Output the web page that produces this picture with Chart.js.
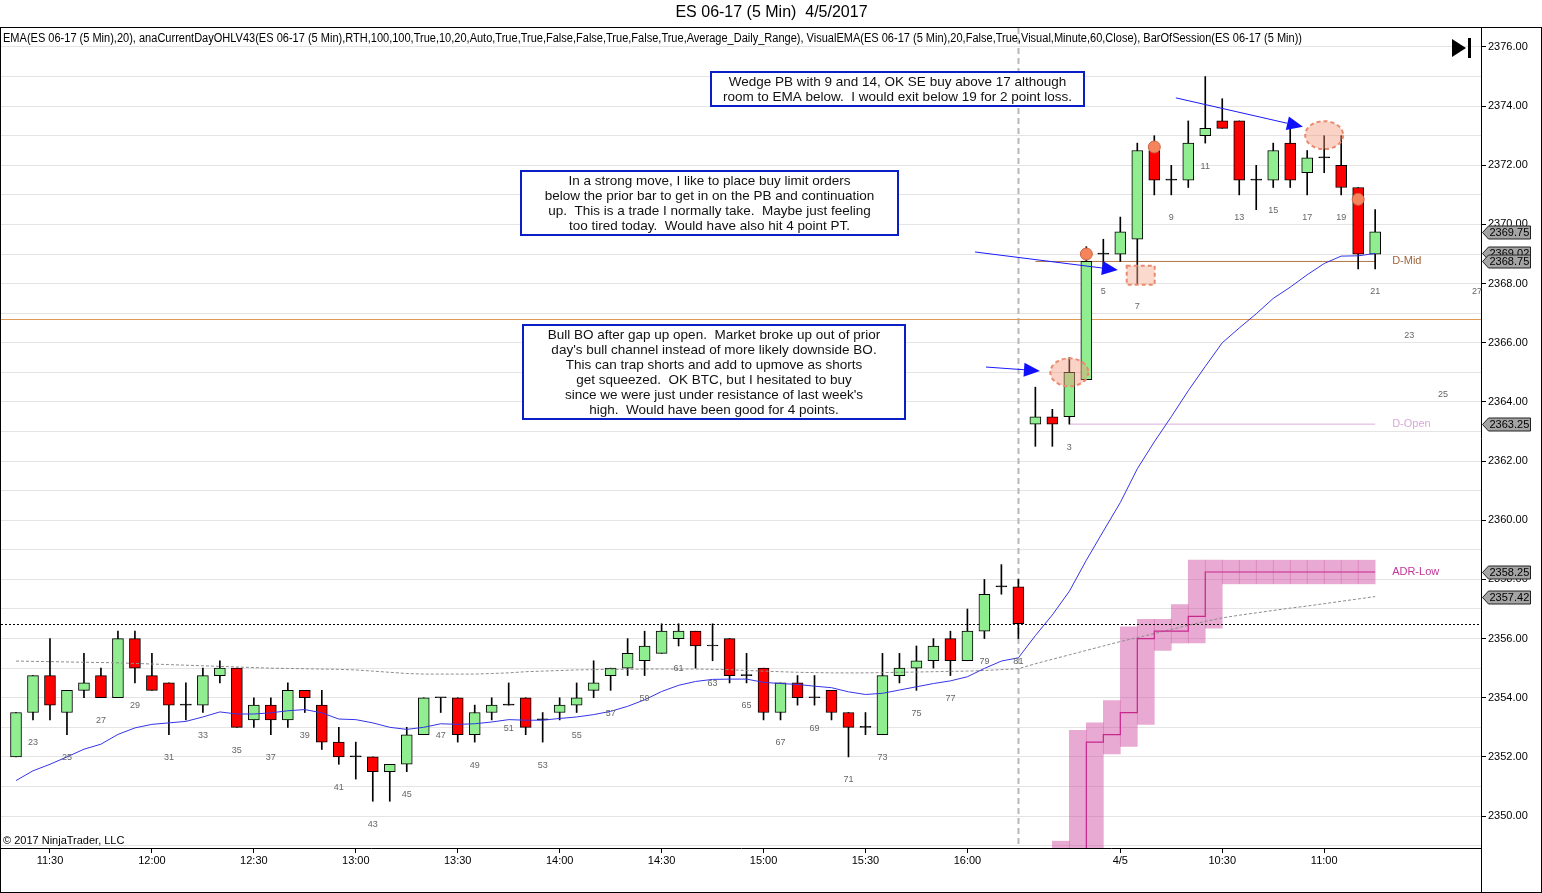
<!DOCTYPE html>
<html>
<head>
<meta charset="utf-8">
<title>ES 06-17 (5 Min) 4/5/2017</title>
<script src="https://cdn.jsdelivr.net/npm/chart.js@4.4.1/dist/chart.umd.min.js"></script>
<style>
  html, body { margin: 0; padding: 0; background: #fff; }
  #wrap { width: 1542px; height: 893px; }
</style>
</head>
<body>
<div id="wrap"><canvas id="chart" width="1542" height="893"></canvas></div>
<script>
const FONT = "'Liberation Sans', Arial, sans-serif";

// bar number inside its session: 4/4 from bar 22, 4/5 from bar 1
const barOfSession = [
  22, 23, 24, 25, 26, 27, 28, 29, 30, 31, 32, 33, 34, 35, 36, 37, 38, 39, 40, 41,
  42, 43, 44, 45, 46, 47, 48, 49, 50, 51, 52, 53, 54, 55, 56, 57, 58, 59, 60, 61,
  62, 63, 64, 65, 66, 67, 68, 69, 70, 71, 72, 73, 74, 75, 76, 77, 78, 79, 80, 81,
  1, 2, 3, 4, 5, 6, 7, 8, 9, 10, 11, 12, 13, 14, 15, 16, 17, 18, 19, 20, 21
];

const openPx = [
  2352, 2353.5, 2354.75, 2353.5, 2354.25, 2354.75, 2354, 2356, 2354.75, 2354.5,
  2353.75, 2353.75, 2354.75, 2355, 2353.25, 2353.75, 2353.25, 2354.25, 2353.75, 2352.5,
  2352, 2352, 2351.5, 2351.75, 2352.75, 2354, 2354, 2352.75, 2353.5, 2353.75,
  2354, 2353.25, 2353.5, 2353.75, 2354.25, 2354.75, 2355, 2355.25, 2355.5, 2356,
  2356.25, 2355.75, 2356, 2354.75, 2355, 2353.5, 2354.5, 2354, 2354.25, 2353.5,
  2353, 2352.75, 2354.75, 2355, 2355.25, 2356, 2355.25, 2356.25, 2357.75, 2357.75,
  // 4/5
  2363.25, 2363.5, 2363.5, 2364.75, 2369, 2369, 2369.5, 2372.5, 2371.5, 2371.5,
  2373, 2373.5, 2373.5, 2371.5, 2371.5, 2372.75, 2371.75, 2372.25, 2372, 2371.25, 2369
];
const highPx = [
  2353.5, 2354.75, 2356, 2354.25, 2355.5, 2355, 2356.25, 2356.25, 2355.5, 2354.5,
  2354.5, 2355, 2355.25, 2355, 2354, 2354, 2354.5, 2354.25, 2354.25, 2353,
  2352.5, 2352, 2351.75, 2353, 2354, 2354, 2354, 2353.75, 2354, 2354.5,
  2354, 2353.5, 2354, 2354.5, 2355.25, 2355, 2356, 2356.25, 2356.5, 2356.5,
  2356.25, 2356.5, 2356, 2355.5, 2355, 2354.5, 2354.75, 2354.75, 2354.25, 2353.5,
  2353.5, 2355.5, 2355.5, 2355.75, 2356, 2356.25, 2357, 2358, 2358.5, 2358,
  2364.5, 2363.75, 2365.5, 2369.25, 2369.5, 2370.25, 2372.75, 2373, 2372, 2373.5,
  2375, 2374.25, 2373.5, 2372, 2372.75, 2373.25, 2372.5, 2373, 2373, 2371.25, 2370.5
];
const lowPx = [
  2352, 2353.25, 2353.25, 2352.75, 2354, 2354, 2354, 2354.5, 2354.25, 2352.75,
  2353.25, 2353.5, 2354.5, 2353, 2353, 2352.75, 2353, 2353.5, 2352.25, 2351.75,
  2351.25, 2350.5, 2350.5, 2351.5, 2352.75, 2353.5, 2352.5, 2352.5, 2353.25, 2353.75,
  2352.75, 2352.5, 2353.25, 2353.5, 2354, 2354.25, 2354.75, 2354.75, 2355.5, 2355.75,
  2355, 2355.25, 2354.5, 2354.5, 2353.25, 2353.25, 2353.75, 2353.75, 2353.25, 2352,
  2352.75, 2352.75, 2354.5, 2354.25, 2355, 2354.75, 2355.25, 2356, 2357.5, 2356,
  2362.5, 2362.5, 2363.25, 2364.75, 2368.5, 2368.75, 2368, 2371, 2371, 2371.25,
  2372.75, 2373.25, 2371, 2370.5, 2371.25, 2371.25, 2371, 2371.75, 2371, 2368.5, 2368.5
];
const closePx = [
  2353.5, 2354.75, 2353.75, 2354.25, 2354.5, 2354, 2356, 2355, 2354.25, 2353.75,
  2353.75, 2354.75, 2355, 2353, 2353.75, 2353.25, 2354.25, 2354, 2352.5, 2352,
  2352, 2351.5, 2351.75, 2352.75, 2354, 2354, 2352.75, 2353.5, 2353.75, 2353.75,
  2353, 2353.25, 2353.75, 2354, 2354.5, 2355, 2355.5, 2355.75, 2356.25, 2356.25,
  2355.75, 2355.75, 2354.75, 2354.75, 2353.5, 2354.5, 2354, 2354, 2353.5, 2353,
  2353, 2354.75, 2355, 2355.25, 2355.75, 2355.25, 2356.25, 2357.5, 2357.75, 2356.5,
  2363.5, 2363.25, 2365, 2368.75, 2369, 2369.75, 2372.5, 2371.5, 2371.5, 2372.75,
  2373.25, 2373.25, 2371.5, 2371.5, 2372.5, 2371.5, 2372.25, 2372.25, 2371.25, 2369, 2369.75
];

// EMA(20), blue
const emaLine = [
  2351.2, 2351.53, 2351.75, 2352.0, 2352.26, 2352.43, 2352.76, 2352.98, 2353.1, 2353.15,
  2353.2, 2353.35, 2353.52, 2353.45, 2353.45, 2353.49, 2353.56, 2353.6, 2353.49, 2353.28,
  2353.26, 2353.15, 2353.0, 2352.93, 2353.0, 2353.12, 2353.1, 2353.12, 2353.18, 2353.26,
  2353.24, 2353.24, 2353.3, 2353.35, 2353.43, 2353.54, 2353.71, 2353.93, 2354.21, 2354.42,
  2354.55, 2354.62, 2354.63, 2354.63, 2354.52, 2354.48, 2354.45, 2354.39, 2354.34, 2354.2,
  2354.11, 2354.15, 2354.26, 2354.37, 2354.48, 2354.57, 2354.71, 2354.99, 2355.24, 2355.35,
  2356.1, 2356.8, 2357.6, 2358.65, 2359.63, 2360.6, 2361.74, 2362.65, 2363.5, 2364.38,
  2365.2, 2366.0, 2366.5, 2366.98, 2367.5, 2367.88, 2368.3, 2368.68, 2368.93, 2368.94, 2369.02
];
// VisualEMA (60 min), grey dotted
const visualEma = [
  2355.24, 2355.23, 2355.22, 2355.21, 2355.2, 2355.19, 2355.18, 2355.16, 2355.14, 2355.12,
  2355.1, 2355.08, 2355.06, 2355.04, 2355.02, 2355.0, 2354.99, 2354.98, 2354.97, 2354.96,
  2354.94, 2354.9, 2354.86, 2354.82, 2354.8, 2354.8, 2354.8, 2354.8, 2354.82, 2354.84,
  2354.88, 2354.9, 2354.92, 2354.94, 2354.95, 2354.96, 2354.96, 2354.97, 2354.97, 2354.97,
  2354.97, 2354.96, 2354.95, 2354.92, 2354.9, 2354.88, 2354.86, 2354.85, 2354.84, 2354.84,
  2354.84, 2354.85, 2354.86, 2354.87, 2354.88, 2354.89, 2354.9, 2354.92, 2354.95, 2354.98,
  2355.15, 2355.3, 2355.45, 2355.6, 2355.75, 2355.9, 2356.03, 2356.17, 2356.31, 2356.45,
  2356.58, 2356.7, 2356.79, 2356.87, 2356.95, 2357.03, 2357.1, 2357.18, 2357.26, 2357.34, 2357.42
];
// ADR-Low for the 4/5 bars 1..21
const adrLow = [
  null, 2348.75, 2348.75, 2352.5, 2352.75, 2353.5, 2356.0, 2356.25, 2356.25, 2356.75,
  2358.25, 2358.25, 2358.25, 2358.25, 2358.25, 2358.25, 2358.25, 2358.25, 2358.25, 2358.25, 2358.25
];

const day2Start = 60;          // slot of 4/5 bar 1
const dMid = 2368.75;
const dMidFromBar = 1;
const dOpen = 2363.25;
const dOpenFromBar = 3;
const priorLevel = 2366.8;     // orange line
const dashedLevel = 2356.5;    // black dotted line

const timeLabels = ["11:30", "12:00", "12:30", "13:00", "13:30", "14:00", "14:30", "15:00", "15:30", "16:00", "4/5", "10:30", "11:00"];
const timeSlots = [2, 8, 14, 20, 26, 32, 38, 44, 50, 56, 65, 71, 77];

const markerSlots = [63, 67, 79];
const markerPrices = [2369.0, 2372.62, 2370.85];

const futureBars = [23, 25, 27];
const futureSlots = [82, 84, 86];
const futurePrices = [2366.23, 2364.24, 2367.75];

// annotations (slot, price)
const notes = [
  { x0: 40.9, x1: 62.86, top: 2375.15, lines: ["Wedge PB with 9 and 14, OK SE buy above 17 although", "room to EMA below.  I would exit below 19 for 2 point loss."] },
  { x0: 29.72, x1: 51.91, top: 2371.81, lines: ["In a strong move, I like to place buy limit orders", "below the prior bar to get in on the PB and continuation", "up.  This is a trade I normally take.  Maybe just feeling", "too tired today.  Would have also hit 4 point PT."] },
  { x0: 29.84, x1: 52.33, top: 2366.6, lines: ["Bull BO after gap up open.  Market broke up out of prior", "day's bull channel instead of more likely downside BO.", "This can trap shorts and add to upmove as shorts", "get squeezed.  OK BTC, but I hesitated to buy", "since we were just under resistance of last week's", "high.  Would have been good for 4 points."] }
];
const arrows = [
  { x1: 68.27, y1: 2374.28, x2: 75.75, y2: 2373.3 },
  { x1: 56.45, y1: 2369.07, x2: 64.86, y2: 2368.46 },
  { x1: 57.09, y1: 2365.18, x2: 60.27, y2: 2365.05 }
];
const ellipses = [
  { x: 77, y: 2373.02 },
  { x: 62, y: 2365.0 }
];
const boxes = [{ x: 66.2, y: 2368.28 }];

const adrHalf = 0.4;

// ---- datasets
const wickData = highPx.map((h, i) => ({ x: i, y: [lowPx[i], h] }));
const bodyData = openPx.map((o, i) => ({ x: i, y: [o, closePx[i]] }));
const emaData = emaLine.map((v, i) => ({ x: i, y: v }));
const visualData = visualEma.map((v, i) => ({ x: i, y: v }));
const adrData = [];
const adrBand = [];
adrLow.forEach((v, j) => {
  if (v == null) return;
  adrData.push({ x: day2Start + j, y: v });
  const next = adrLow[j + 1];
  if (next == null) return;
  const prev = adrLow[j - 1] ?? v;
  adrBand.push({ x: day2Start + j + 0.5, y: [Math.min(prev, v, next) - adrHalf, Math.max(prev, v, next) + adrHalf] });
});
const lastSlot = closePx.length - 1;
const dMidData = [{ x: day2Start + dMidFromBar - 1, y: dMid }, { x: lastSlot, y: dMid }];
const dOpenData = [{ x: day2Start + dOpenFromBar - 1, y: dOpen }, { x: lastSlot, y: dOpen }];
const markerData = markerSlots.map((s, i) => ({ x: s, y: markerPrices[i] }));

const BAND_INDEX = 0;

const overlay = {
  id: "overlay",
  beforeDatasetsDraw(chart) {
    const { ctx, chartArea: a, scales: { x, y } } = chart;
    ctx.save();
    // session break
    const sx = Math.round(x.getPixelForValue(day2Start - 1)) + 0.5;
    ctx.strokeStyle = "#b8b8b8";
    ctx.lineWidth = 2;
    ctx.setLineDash([6, 4]);
    ctx.beginPath(); ctx.moveTo(sx, a.top); ctx.lineTo(sx, a.bottom); ctx.stroke();
    // prior level
    ctx.setLineDash([]);
    ctx.lineWidth = 1;
    ctx.strokeStyle = "#e09a58";
    const oy = Math.round(y.getPixelForValue(priorLevel)) + 0.5;
    ctx.beginPath(); ctx.moveTo(a.left, oy); ctx.lineTo(a.right, oy); ctx.stroke();
    ctx.restore();
  },
  afterDatasetDraw(chart, args) {
    if (args.index !== BAND_INDEX) return;
    const { ctx, chartArea: a, scales: { y } } = chart;
    ctx.save();
    ctx.strokeStyle = "#000";
    ctx.lineWidth = 1;
    ctx.setLineDash([2, 2]);
    const dy = Math.round(y.getPixelForValue(dashedLevel)) + 0.5;
    ctx.beginPath(); ctx.moveTo(a.left, dy); ctx.lineTo(a.right, dy); ctx.stroke();
    ctx.restore();
  },
  afterDatasetsDraw(chart) {
    const { ctx, scales: { x, y } } = chart;
    ctx.save();

    // bar numbers
    ctx.font = "9px " + FONT;
    ctx.fillStyle = "#666";
    ctx.textAlign = "center";
    ctx.textBaseline = "middle";
    barOfSession.forEach((b, i) => {
      if (b % 2 === 0 || (i >= day2Start && b === 1)) return;
      ctx.fillText(String(b), x.getPixelForValue(i), y.getPixelForValue(lowPx[i]) + 23);
    });
    futureBars.forEach((b, i) => {
      ctx.fillText(String(b), x.getPixelForValue(futureSlots[i]), y.getPixelForValue(futurePrices[i]));
    });

    // level labels
    ctx.font = "11px " + FONT;
    ctx.textAlign = "left";
    const lx = x.getPixelForValue(lastSlot + 1);
    ctx.fillStyle = "#a0643c"; ctx.fillText("D-Mid", lx, y.getPixelForValue(dMid));
    ctx.fillStyle = "#d8a8d8"; ctx.fillText("D-Open", lx, y.getPixelForValue(dOpen));
    ctx.fillStyle = "#c0369a"; ctx.fillText("ADR-Low", lx, y.getPixelForValue(adrLow[adrLow.length - 1]));

    // orange marks
    ctx.lineWidth = 2;
    ctx.setLineDash([4, 3]);
    ctx.strokeStyle = "#ea8a6e";
    ellipses.forEach(e => {
      ctx.beginPath();
      ctx.ellipse(x.getPixelForValue(e.x), y.getPixelForValue(e.y), 19, 14, 0, 0, Math.PI * 2);
      ctx.fillStyle = "rgba(244,150,120,0.42)";
      ctx.fill(); ctx.stroke();
    });
    boxes.forEach(b => {
      const cx = x.getPixelForValue(b.x), cy = y.getPixelForValue(b.y);
      ctx.fillStyle = "rgba(246,170,145,0.45)";
      ctx.fillRect(cx - 14, cy - 9.5, 28, 19);
      ctx.strokeRect(cx - 14, cy - 9.5, 28, 19);
    });
    ctx.setLineDash([]);

    // arrows
    ctx.strokeStyle = "#1a1aff";
    ctx.fillStyle = "#1010ff";
    ctx.lineWidth = 1;
    arrows.forEach(r => {
      const x1 = x.getPixelForValue(r.x1), y1 = y.getPixelForValue(r.y1);
      const x2 = x.getPixelForValue(r.x2), y2 = y.getPixelForValue(r.y2);
      const ang = Math.atan2(y2 - y1, x2 - x1);
      const len = 16, half = 7;
      const bx = x2 - len * Math.cos(ang), by = y2 - len * Math.sin(ang);
      ctx.beginPath(); ctx.moveTo(x1, y1); ctx.lineTo(bx, by); ctx.stroke();
      ctx.beginPath();
      ctx.moveTo(x2, y2);
      ctx.lineTo(bx + half * Math.sin(ang), by - half * Math.cos(ang));
      ctx.lineTo(bx - half * Math.sin(ang), by + half * Math.cos(ang));
      ctx.closePath(); ctx.fill();
    });

    // text boxes
    ctx.font = "13.5px " + FONT;
    ctx.textAlign = "center";
    notes.forEach(n => {
      const l = Math.round(x.getPixelForValue(n.x0)), r = Math.round(x.getPixelForValue(n.x1));
      const t = Math.round(y.getPixelForValue(n.top));
      const h = n.lines.length * 15 + 4;
      ctx.fillStyle = "#fff";
      ctx.fillRect(l, t, r - l, h);
      ctx.strokeStyle = "#0a1ec8";
      ctx.lineWidth = 2;
      ctx.strokeRect(l, t, r - l, h);
      ctx.fillStyle = "#111";
      n.lines.forEach((s, k) => ctx.fillText(s, (l + r) / 2, t + 10 + k * 15));
    });
    ctx.restore();
  },
  afterDraw(chart) {
    const { ctx, chartArea: a, scales: { y } } = chart;
    ctx.save();
    // frame
    ctx.strokeStyle = "#000";
    ctx.lineWidth = 1;
    ctx.strokeRect(0.5, Math.round(a.top) - 0.5, chart.width - 1, chart.height - Math.round(a.top));
    ctx.beginPath();
    ctx.moveTo(Math.round(a.right) + 0.5, a.bottom);
    ctx.lineTo(Math.round(a.right) + 0.5, chart.height);
    ctx.stroke();

    // indicator line
    ctx.fillStyle = "#000";
    ctx.font = "12px " + FONT;
    ctx.textAlign = "left";
    ctx.textBaseline = "middle";
    ctx.fillText("EMA(ES 06-17 (5 Min),20), anaCurrentDayOHLV43(ES 06-17 (5 Min),RTH,100,100,True,10,20,Auto,True,True,False,False,True,False,True,Average_Daily_Range), VisualEMA(ES 06-17 (5 Min),20,False,True,Visual,Minute,60,Close), BarOfSession(ES 06-17 (5 Min))", 3, a.top + 11, 1299);
    ctx.font = "11px " + FONT;
    ctx.fillText("\u00a9 2017 NinjaTrader, LLC", 3, a.bottom - 7);

    // go-to-end icon
    const ir = a.right;
    ctx.beginPath();
    ctx.moveTo(ir - 29, a.top + 11); ctx.lineTo(ir - 29, a.top + 29); ctx.lineTo(ir - 15, a.top + 20);
    ctx.closePath(); ctx.fill();
    ctx.fillRect(ir - 13, a.top + 10, 3, 20);

    // price markers on the axis
    const tags = [closePx[lastSlot], emaLine[lastSlot], dMid, dOpen, adrLow[adrLow.length - 1], visualEma[lastSlot]];
    ctx.font = "11px " + FONT;
    tags.forEach(v => {
      const ty = Math.round(y.getPixelForValue(v)) + 0.5;
      const x0 = Math.round(a.right) + 1.5;
      ctx.beginPath();
      ctx.moveTo(x0, ty);
      ctx.lineTo(x0 + 6, ty - 6.5);
      ctx.lineTo(x0 + 48, ty - 6.5);
      ctx.lineTo(x0 + 48, ty + 6.5);
      ctx.lineTo(x0 + 6, ty + 6.5);
      ctx.closePath();
      ctx.fillStyle = "#a4a4a4";
      ctx.fill();
      ctx.strokeStyle = "#222";
      ctx.stroke();
      ctx.fillStyle = "#000";
      ctx.fillText(v.toFixed(2), x0 + 7, ty + 0.5);
    });
    ctx.restore();
  }
};

Chart.defaults.font.family = FONT;
Chart.defaults.color = "#000";

const chart = new Chart(document.getElementById("chart"), {
  type: "bar",
  data: {
    datasets: [
      {
        type: "bar",
        data: adrBand,
        backgroundColor: "rgba(204,64,156,0.45)",
        borderWidth: 0,
        barThickness: 17,
        grouped: false,
        order: 9
      },
      {
        type: "line",
        data: dMidData,
        borderColor: "#b07444",
        borderWidth: 1,
        pointRadius: 0,
        order: 8
      },
      {
        type: "line",
        data: dOpenData,
        borderColor: "#dcaedc",
        borderWidth: 1,
        pointRadius: 0,
        order: 8
      },
      {
        type: "bar",
        data: wickData,
        backgroundColor: "#000",
        borderWidth: 0,
        barThickness: 1,
        grouped: false,
        order: 6
      },
      {
        type: "bar",
        data: bodyData,
        backgroundColor: (c) => {
          const o = openPx[c.dataIndex], k = closePx[c.dataIndex];
          return k === o ? "#000" : (k > o ? "#90ee90" : "#ff0000");
        },
        borderColor: "#000",
        borderWidth: 1,
        borderSkipped: false,
        barThickness: 11,
        minBarLength: 1,
        grouped: false,
        order: 5
      },
      {
        type: "line",
        data: visualData,
        borderColor: "#8c8c8c",
        borderWidth: 1,
        borderDash: [3, 2],
        pointRadius: 0,
        order: 4
      },
      {
        type: "line",
        data: adrData,
        stepped: "before",
        borderColor: "#c8288c",
        borderWidth: 1.2,
        pointRadius: 0,
        order: 3
      },
      {
        type: "line",
        data: emaData,
        borderColor: "#3434e8",
        borderWidth: 1,
        pointRadius: 0,
        tension: 0,
        order: 2
      },
      {
        type: "line",
        data: markerData,
        showLine: false,
        pointRadius: 6,
        pointBackgroundColor: "#f4845c",
        pointBorderColor: "#cc6444",
        pointBorderWidth: 1,
        order: 1
      }
    ]
  },
  options: {
    responsive: false,
    animation: false,
    devicePixelRatio: 1,
    events: [],
    layout: { autoPadding: false, padding: { left: 1, right: 0, top: 0, bottom: 0 } },
    plugins: {
      legend: { display: false },
      tooltip: { enabled: false },
      title: {
        display: true,
        text: "ES 06-17 (5 Min)  4/5/2017",
        color: "#000",
        font: { size: 16, weight: "normal" },
        padding: { top: 2.8, bottom: 6 }
      }
    },
    scales: {
      x: {
        type: "linear",
        position: "bottom",
        min: -0.883,
        max: 86.23,
        bounds: "data",
        offset: false,
        afterBuildTicks: (s) => { s.ticks = timeSlots.map(v => ({ value: v })); },
        afterFit: (s) => { s.height = 45; s.paddingLeft = 0; s.paddingRight = 0; },
        ticks: {
          autoSkip: false,
          maxRotation: 0,
          padding: 1,
          font: { size: 11 },
          callback: (v) => timeLabels[timeSlots.indexOf(v)] ?? ""
        },
        grid: { offset: false, drawOnChartArea: false, drawTicks: true, tickLength: 5, color: "#000" },
        border: { display: true, color: "#000" }
      },
      y: {
        type: "linear",
        position: "right",
        min: 2348.92,
        max: 2376.642,
        bounds: "data",
        beginAtZero: false,
        afterBuildTicks: (s) => {
          const t = [];
          for (let v = Math.ceil(s.min); v <= Math.floor(s.max); v++) t.push({ value: v });
          s.ticks = t;
        },
        afterFit: (s) => { s.width = 61; s.paddingTop = 0; s.paddingBottom = 0; },
        ticks: {
          autoSkip: false,
          padding: 2,
          font: { size: 11 },
          callback: (v) => (Math.round(v) % 2 === 0 ? Number(v).toFixed(2) : "")
        },
        grid: {
          color: "#e4e4e4",
          tickLength: 5,
          tickColor: (c) => (c.tick && Math.round(c.tick.value) % 2 === 0 ? "#000" : "rgba(0,0,0,0)")
        },
        border: { display: true, color: "#000" }
      }
    }
  },
  plugins: [overlay]
});
</script>
</body>
</html>
